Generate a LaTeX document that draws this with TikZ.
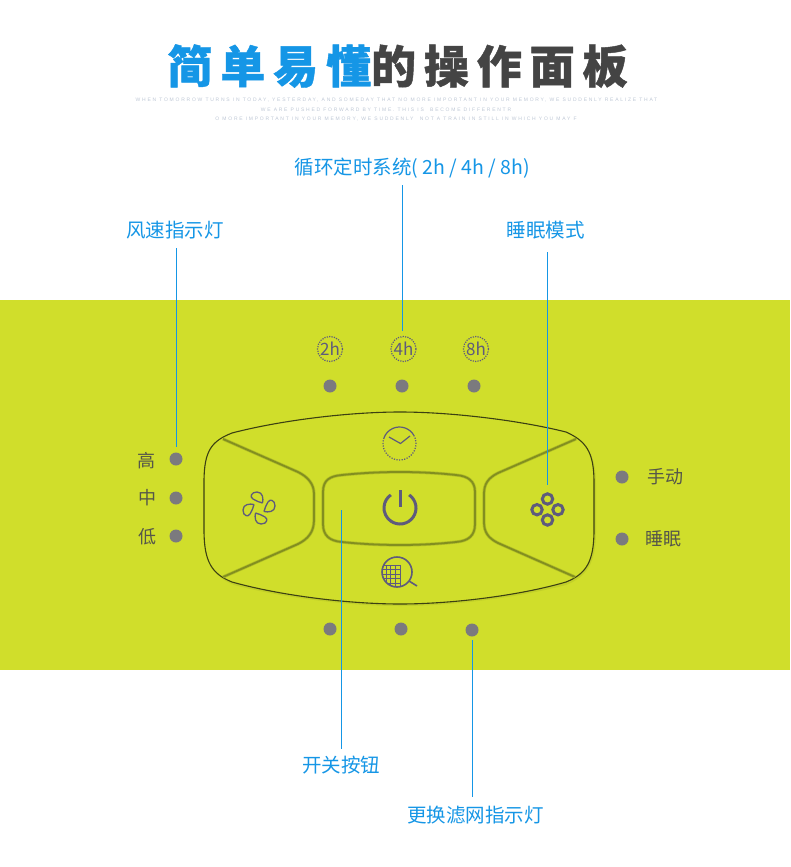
\documentclass[tikz,border=0pt]{standalone}
\usepackage{fontspec}
\usepackage{tikz}
\usetikzlibrary{calc,positioning}
\newfontfamily\cjk{Noto Sans CJK SC}
\newfontfamily\titlefont[LetterSpace=17.5,BoldFeatures={FakeBold=1}]{Noto Sans CJK SC}
\newfontfamily\finefont[LetterSpace=35]{Liberation Sans}
\definecolor{BandGreen}{HTML}{D0DE2B}
\definecolor{LabelBlue}{HTML}{1596E6}
\definecolor{TitleGray}{HTML}{444444}
\definecolor{FineGray}{HTML}{BFC8D6}
\definecolor{IconInk}{HTML}{5E5B7C}
\definecolor{LedGray}{HTML}{7B7A7E}
\definecolor{TextGray}{HTML}{55564A}
\definecolor{SeamOlive}{HTML}{828E20}
\definecolor{RimDark}{HTML}{3C4012}
\tikzset{
  titlechars/.style={inner sep=0pt,font=\titlefont\bfseries\fontsize{45}{45}\selectfont},
  fineline/.style={inner sep=0pt,FineGray,font=\finefont\fontsize{5}{5}\selectfont},
  callout/.style={inner sep=2pt,LabelBlue,font=\cjk\fontsize{19.5}{19.5}\selectfont},
  panellabel/.style={inner sep=0pt,TextGray,font=\cjk\fontsize{18}{18}\selectfont},
  led/.style={circle,fill=LedGray,inner sep=0pt,minimum size=13pt},
  hourmark/.style={circle,draw=IconInk,line width=1.2pt,dash pattern=on 1.2pt off 1.2pt,inner sep=0pt,
    minimum size=25pt,text=IconInk,font=\cjk\fontsize{17}{17}\selectfont},
  leader/.style={color=LabelBlue,line width=0.9pt,shorten <=7pt},
  seam/.style={draw=SeamOlive,line width=1.8pt,preaction={draw=SeamOlive!40!BandGreen,line width=3.2pt}},
  icon/.style={draw=IconInk,line width=1.3pt}
}
\begin{document}
\begin{tikzpicture}[x=1pt,y=-1pt]
  \useasboundingbox (0,0) rectangle (790,867);
  \fill[white] (0,0) rectangle (790,867);
  % --- title block ---
  \node[titlechars] (title) at (397.5,66)
    {\textcolor{LabelBlue}{简单易懂}\textcolor{TitleGray}{的操作面板}};
  \node[fineline] (fineone) at (396.5,100)
    {WHEN TOMORROW TURNS IN TODAY, YESTERDAY, AND SOMEDAY THAT NO MORE IMPORTANT IN YOUR MEMORY, WE SUDDENLY REALIZE THAT};
  \node[fineline] (finetwo) at (386,110)
    {WE ARE PUSHED FORWARD BY TIME. THIS IS \ BECOME DIFFERENTR};
  \node[fineline] (finethree) at (396,119)
    {O MORE IMPORTANT IN YOUR MEMORY, WE SUDDENLY \ NOT A TRAIN IN STILL IN WHICH YOU MAY F};

  % --- green band ---
  \fill[BandGreen] (0,300) rectangle (790,670);

  % --- panel rim and button seams ---
  \fill[SeamOlive!18!BandGreen] (206,484) .. controls (206,452) and (214,443) .. (234,436)
    .. controls (284,423) and (350,415) .. (400,415) .. controls (450,415) and (516,423) .. (566,436)
    .. controls (586,443) and (596,452) .. (596,484) -- (596,532)
    .. controls (596,564) and (586,577) .. (566,585) .. controls (516,598) and (450,606) .. (400,606)
    .. controls (350,606) and (284,598) .. (234,585) .. controls (214,577) and (206,564) .. (206,532) -- cycle;
  \filldraw[fill=BandGreen,draw=RimDark,line width=1.1pt] (204,482) .. controls (204,450) and (212,441) .. (232,433)
    .. controls (282,420) and (350,412) .. (400,412) .. controls (450,412) and (518,420) .. (566,432)
    .. controls (586,441) and (594,452) .. (594,482) -- (594,530)
    .. controls (594,562) and (586,574) .. (566,582) .. controls (518,596) and (450,604) .. (400,604)
    .. controls (350,604) and (282,596) .. (232,582) .. controls (212,574) and (204,562) .. (204,530) -- cycle;
  \draw[seam] (223,439) -- (298,472) .. controls (308,477) and (314,484) .. (314,494) -- (314,520)
    .. controls (314,532) and (308,539) .. (298,544) -- (223,577);
  \draw[seam] (576,439) -- (498,473) .. controls (488,478) and (484,484) .. (484,494) -- (484,522)
    .. controls (484,532) and (488,538) .. (498,543) -- (575,577);
  \draw[seam] (323,492) .. controls (323,480) and (330,476) .. (342,475) .. controls (380,471) and (420,471) .. (456,475)
    .. controls (468,476) and (475,481) .. (475,492) -- (475,524) .. controls (475,536) and (468,541) .. (456,542)
    .. controls (420,546) and (380,546) .. (342,542) .. controls (330,541) and (323,536) .. (323,524) -- cycle;

  % --- icons ---
  \foreach \turn in {0,90,180,270} {
    \draw[icon,shift={(259,508)},rotate=\turn] (3.5,-5) .. controls (4.5,-9) and (4,-16) .. (-2,-16)
      .. controls (-8,-16) and (-9.5,-11) .. (-6,-9) .. controls (-3,-7.5) and (0,-5.5) .. (3.5,-5);
  }
  \draw[icon,line width=3pt] (400,508) ++(-55:16) arc[start angle=-55,end angle=235,radius=16];
  \draw[icon,line width=3pt] (400,490) -- (400,507);
  \draw[icon,line width=3pt] (547.5,499) circle (5.2) (558,509.7) circle (5.2)
    (547.5,520) circle (5.2) (537,509.7) circle (5.2);
  % clock
  \draw[icon,line width=1.2pt] (399.5,443.5) ++(200:16.5) arc[start angle=200,end angle=330,radius=16.5];
  \draw[icon,line width=1.2pt,dash pattern=on 1.2pt off 1.4pt] (399.5,443.5) ++(-30:16.5) arc[start angle=-30,end angle=200,radius=16.5];
  \draw[icon,line width=1.2pt] (389,437) -- (400.5,443.5) -- (410,436);
  % filter
  \draw[icon,line width=1.6pt] (397,572) circle (15);
  \begin{scope}
    \clip (397,572) circle (15);
    \draw[icon,line width=0.9pt] (381,565) -- (400,565) (381,569.5) -- (400,569.5) (381,574) -- (400,574)
      (381,578.5) -- (400,578.5) (381,583) -- (400,583)
      (386,565) -- (386,590) (390.5,565) -- (390.5,590) (395,565) -- (395,590) (400,565) -- (400,590);
  \end{scope}
  \draw[icon,line width=1.6pt] (409,581) -- (417,586);

  % --- hour marks ---
  \node[hourmark] (marktwo) at (330,349) {2h};
  \node[hourmark] (markfour) at (403.5,349) {4h};
  \node[hourmark] (markeight) at (476,349) {8h};

  % --- indicator lights ---
  \node[led] (ledtwo) at (330,386) {};
  \node[led] (ledfour) at (402,386) {};
  \node[led] (ledeight) at (474,386) {};
  \node[led] (ledhigh) at (176,459) {};
  \node[led] (ledmid) at (176,498) {};
  \node[led] (ledlow) at (176,536) {};
  \node[led] (ledmanual) at (622,477) {};
  \node[led] (ledsleep) at (622,539) {};
  \node[led] (ledfiltera) at (330,629) {};
  \node[led] (ledfilterb) at (401,629) {};
  \node[led] (ledfilterc) at (472,630) {};

  % --- light labels ---
  \node[panellabel] (lblhigh) at (146,461) {高};
  \node[panellabel] (lblmid) at (147,498) {中};
  \node[panellabel] (lbllow) at (147,537) {低};
  \node[panellabel] (lblmanual) at (665,477) {手动};
  \node[panellabel] (lblsleep) at (663,539) {睡眠};

  % --- callouts ---
  \node[callout] (timerlabel) at (412.5,168) {循环定时系统( 2h / 4h / 8h)};
  \node[callout] (speedlabel) at (175,230) {风速指示灯};
  \node[callout] (modelabel) at (545.5,230) {睡眠模式};
  \node[callout] (powerlabel) at (341,765) {开关按钮};
  \node[callout] (filterlabel) at (475.5,815) {更换滤网指示灯};
  \coordinate (timerend) at (402.7,331);
  \coordinate (speedend) at (176.7,447);
  \coordinate (modeend) at (547.3,485);
  \coordinate (powerend) at (341.3,510);
  \coordinate (filterend) at (472.7,640);
  \draw[leader,shorten <=5pt] (timerlabel.south -| timerend) -- (timerend);
  \draw[leader] (speedlabel.south -| speedend) -- (speedend);
  \draw[leader,shorten <=11pt] (modelabel.south -| modeend) -- (modeend);
  \draw[leader,shorten <=5pt] (powerlabel.north -| powerend) -- (powerend);
  \draw[leader] (filterlabel.north -| filterend) -- (filterend);
\end{tikzpicture}
\end{document}
